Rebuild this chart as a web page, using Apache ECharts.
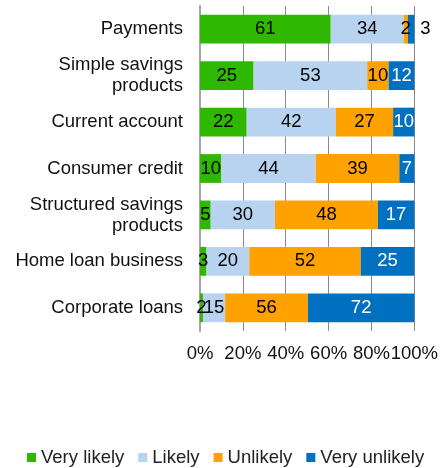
<!DOCTYPE html>
<html><head><meta charset="utf-8">
<script src="https://cdn.jsdelivr.net/npm/echarts@6/dist/echarts.min.js"></script>
<style>html,body{margin:0;padding:0;background:#fff}#c{width:441px;height:468px}</style>
</head><body><div id="c"></div>
<script>
const categories = ['Payments','Simple savings\nproducts','Current account','Consumer credit','Structured savings\nproducts','Home loan business','Corporate loans'];
const seriesNames = ['Very likely','Likely','Unlikely','Very unlikely'];
const veryLikely   = [61, 25, 22, 10, 5, 3, 2];
const likely       = [34, 53, 42, 44, 30, 20, 15];
const unlikely     = [2, 10, 27, 39, 48, 52, 56];
const veryUnlikely = [3, 12, 10, 7, 17, 25, 72];
const xTickLabels = ['0%','20%','40%','60%','80%','100%'];
const colors = ['#2eb800','#b7d3ef','#ffa200','#0070c0'];

const raw = [veryLikely, likely, unlikely, veryUnlikely];
const totals = categories.map((c,i)=>raw.reduce((s,a)=>s+a[i],0));
const FONT = 'Liberation Sans, Arial, sans-serif';
const FS = 18.5;

const series = raw.map((arr, si) => ({
  name: seriesNames[si],
  type: 'bar',
  stack: 'total',
  barWidth: '62%',
  itemStyle: { color: colors[si] },
  label: {
    show: true, position: 'inside', fontSize: FS, fontFamily: FONT,
    color: si === 3 ? '#ffffff' : '#000000',
    formatter: p => String(arr[p.dataIndex])
  },
  data: arr.map((v, i) => {
    const d = { value: v / totals[i] * 100 };
    if (si === 3 && i === 0) d.label = { position: 'right', distance: 6, color: '#000000' };
    return d;
  })
}));

const chart = echarts.init(document.getElementById('c'), null, {renderer:'canvas'});
chart.setOption({
  animation: false,
  grid: { left: 200, right: 24.3, top: 6, bottom: 137, containLabel: false },
  legend: {
    left: 22, top: 443, itemWidth: 9, itemHeight: 9, itemGap: 14, icon: 'rect',
    textStyle: { fontSize: FS, fontFamily: FONT, color: '#222' },
    data: seriesNames
  },
  xAxis: {
    type: 'value', min: 0, max: 100, interval: 20,
    axisLine: { show: false }, axisTick: { show: false },
    splitLine: { show: true, lineStyle: { color: '#8a8a8a', width: 1 } },
    axisLabel: { fontSize: FS, fontFamily: FONT, color: '#111', margin: 13,
      formatter: v => xTickLabels[Math.round(v/20)] }
  },
  yAxis: {
    type: 'category', data: categories, inverse: true,
    axisLine: { show: true, lineStyle: { color: '#a6a6a6', width: 2 } },
    axisTick: { show: false },
    axisLabel: { fontSize: FS, fontFamily: FONT, color: '#111', margin: 17, align: 'right', lineHeight: 21 }
  },
  series
});
</script></body></html>
